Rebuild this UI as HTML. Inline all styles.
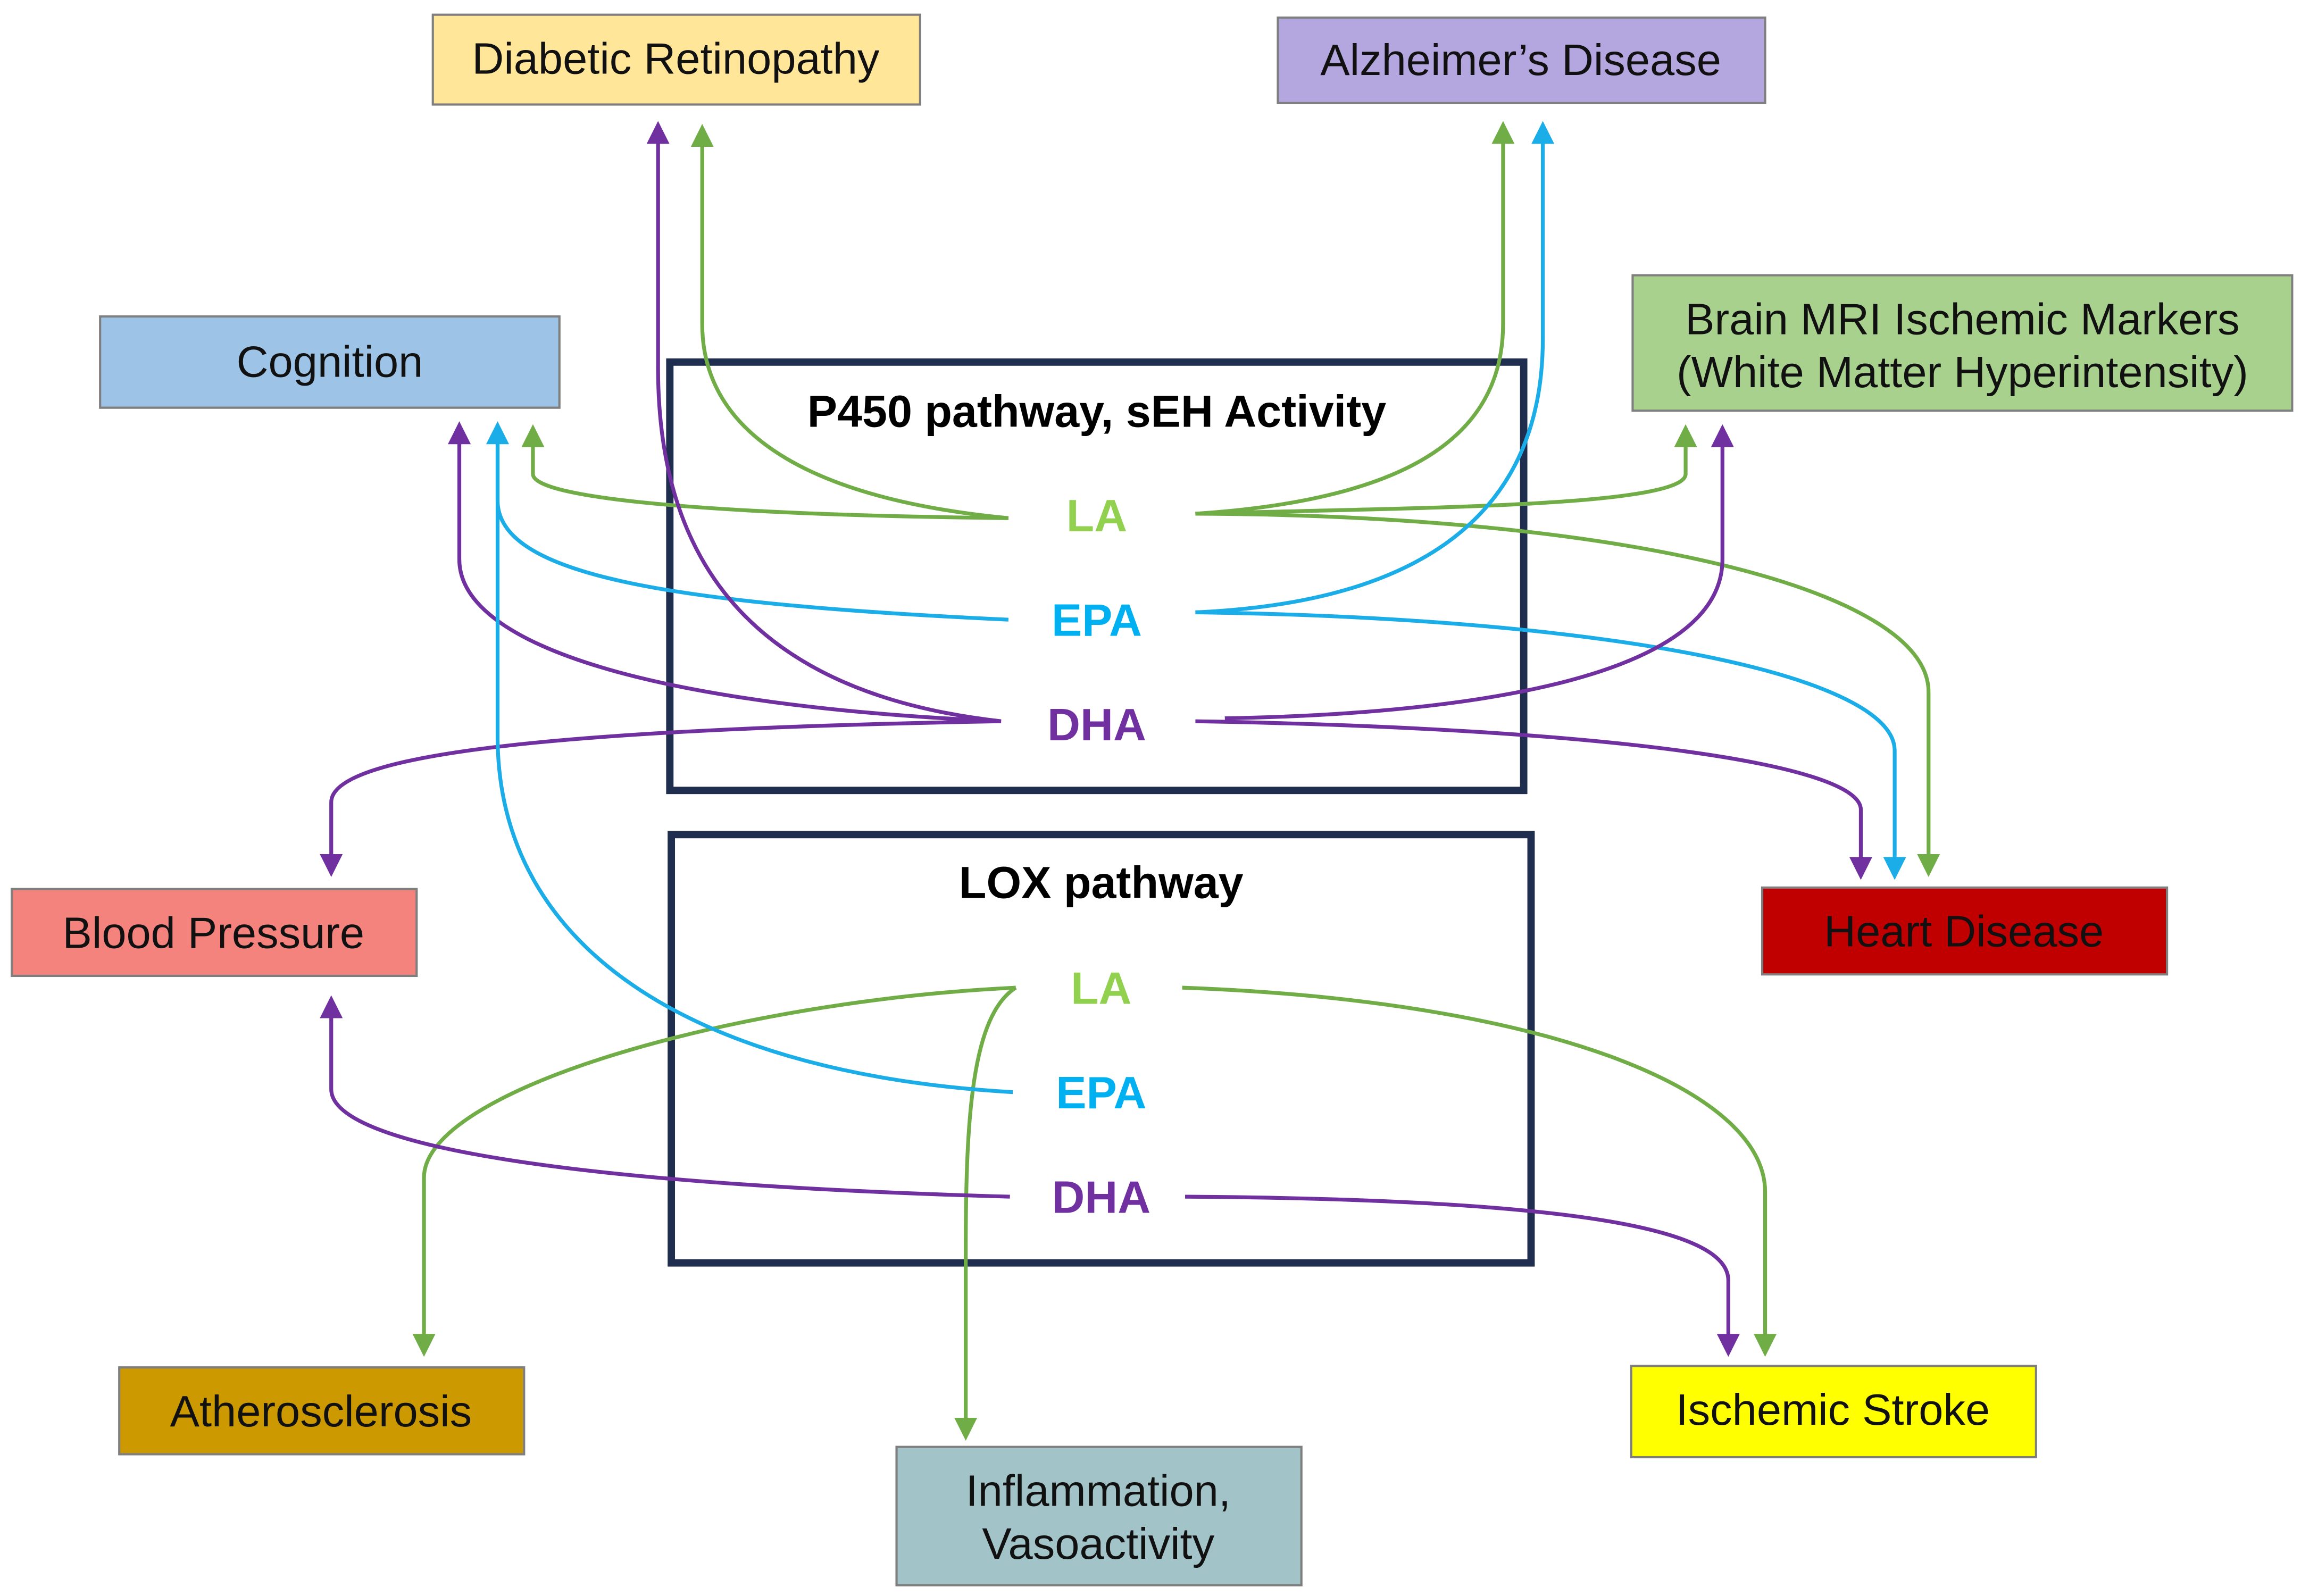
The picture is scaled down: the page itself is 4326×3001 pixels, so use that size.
<!DOCTYPE html>
<html><head><meta charset="utf-8"><style>
html,body{margin:0;padding:0;background:#fff;}
svg{display:block;}
text{font-family:"Liberation Sans",Arial,sans-serif;}
</style></head><body>
<svg width="4326" height="3001" viewBox="0 0 1563 1084.3" preserveAspectRatio="none" xmlns="http://www.w3.org/2000/svg">
<defs>
<marker id="g" markerWidth="6" markerHeight="6" refX="3" refY="3" orient="auto" markerUnits="strokeWidth"><path d="M0,0 L6,3 L0,6 z" fill="#70AD47"/></marker>
<marker id="b" markerWidth="6" markerHeight="6" refX="3" refY="3" orient="auto" markerUnits="strokeWidth"><path d="M0,0 L6,3 L0,6 z" fill="#1BADE8"/></marker>
<marker id="p" markerWidth="6" markerHeight="6" refX="3" refY="3" orient="auto" markerUnits="strokeWidth"><path d="M0,0 L6,3 L0,6 z" fill="#7030A0"/></marker>
</defs>
<rect width="1563" height="1084.3" fill="#fff"/>

<rect x="455" y="246" width="580" height="291" fill="none" stroke="#1F2D4E" stroke-width="5"/>
<rect x="456" y="567" width="584" height="291" fill="none" stroke="#1F2D4E" stroke-width="5"/>
<text x="745" y="290" font-size="30.5" font-weight="bold" text-anchor="middle">P450 pathway, sEH Activity</text>
<text x="748" y="610" font-size="30.5" font-weight="bold" text-anchor="middle">LOX pathway</text>

<g fill="none" stroke-width="2.6">
<path d="M685,352 C560,340 477,300 477,220 L477,92" stroke="#70AD47" marker-end="url(#g)"/>
<path d="M685,352 C500,350 362,340 362,322 L362,296" stroke="#70AD47" marker-end="url(#g)"/>
<path d="M812,349 C950,340 1021,300 1021,220 L1021,90" stroke="#70AD47" marker-end="url(#g)"/>
<path d="M812,349 C950,345 1145,345 1145,322 L1145,296" stroke="#70AD47" marker-end="url(#g)"/>
<path d="M812,349 C1100,350 1310,400 1310,470 L1310,588" stroke="#70AD47" marker-end="url(#g)"/>
<path d="M685,421 C450,410 338,390 338,340 L338,294" stroke="#1BADE8" marker-end="url(#b)"/>
<path d="M812,416 C950,410 1048,360 1048,230 L1048,90" stroke="#1BADE8" marker-end="url(#b)"/>
<path d="M812,416 C1100,420 1287,460 1287,510 L1287,590" stroke="#1BADE8" marker-end="url(#b)"/>
<path d="M680,490 C500,470 447,370 447,250 L447,90" stroke="#7030A0" marker-end="url(#p)"/>
<path d="M680,490 C450,480 312,440 312,380 L312,294" stroke="#7030A0" marker-end="url(#p)"/>
<path d="M680,490 C400,495 225,510 225,545 L225,588" stroke="#7030A0" marker-end="url(#p)"/>
<path d="M832,488 C1000,485 1170,460 1170,380 L1170,296" stroke="#7030A0" marker-end="url(#p)"/>
<path d="M812,490 C1100,495 1264,520 1264,550 L1264,590" stroke="#7030A0" marker-end="url(#p)"/>
<path d="M690,671 C500,680 288,740 288,800 L288,914" stroke="#70AD47" marker-end="url(#g)"/>
<path d="M690,671 C660,690 656,760 656,850 L656,971" stroke="#70AD47" marker-end="url(#g)"/>
<path d="M803,671 C1050,680 1199,740 1199,810 L1199,914" stroke="#70AD47" marker-end="url(#g)"/>
<path d="M688,742 C480,730 338,650 338,500 L338,300" stroke="#1BADE8"/>
<path d="M686,813 C400,805 225,780 225,740 L225,684" stroke="#7030A0" marker-end="url(#p)"/>
<path d="M805,813 C1100,815 1174,840 1174,870 L1174,914" stroke="#7030A0" marker-end="url(#p)"/>
</g>

<g font-size="31" font-weight="bold" text-anchor="middle">
<text x="745" y="361" fill="#92D050">LA</text>
<text x="745" y="432" fill="#00B0F0">EPA</text>
<text x="745" y="503" fill="#7030A0">DHA</text>
<text x="748" y="682" fill="#92D050">LA</text>
<text x="748" y="753" fill="#00B0F0">EPA</text>
<text x="748" y="824" fill="#7030A0">DHA</text>
</g>

<g stroke="#7F7F7F" stroke-width="1.5">
<rect x="294" y="10" width="331" height="61" fill="#FFE699"/>
<rect x="868" y="12" width="331" height="58" fill="#B4A7E0"/>
<rect x="68" y="215" width="312" height="62" fill="#9DC3E6"/>
<rect x="1109" y="187" width="448" height="92" fill="#A9D18E"/>
<rect x="8" y="604" width="275" height="59" fill="#F4837D"/>
<rect x="1197" y="603" width="275" height="59" fill="#C00000"/>
<rect x="81" y="929" width="275" height="59" fill="#CC9900"/>
<rect x="609" y="983" width="275" height="94" fill="#A2C4C9"/>
<rect x="1108" y="928" width="275" height="62" fill="#FFFF00"/>
</g>
<g font-size="30" text-anchor="middle" fill="#111">
<text x="459" y="50">Diabetic Retinopathy</text>
<text x="1033" y="51">Alzheimer’s Disease</text>
<text x="224" y="256">Cognition</text>
<text x="1333" y="227">Brain MRI Ischemic Markers</text>
<text x="1333" y="263">(White Matter Hyperintensity)</text>
<text x="145" y="644">Blood Pressure</text>
<text x="1334" y="643">Heart Disease</text>
<text x="218" y="969">Atherosclerosis</text>
<text x="746" y="1023">Inflammation,</text>
<text x="746" y="1059">Vasoactivity</text>
<text x="1245" y="968">Ischemic Stroke</text>
</g>
</svg>
</body></html>
